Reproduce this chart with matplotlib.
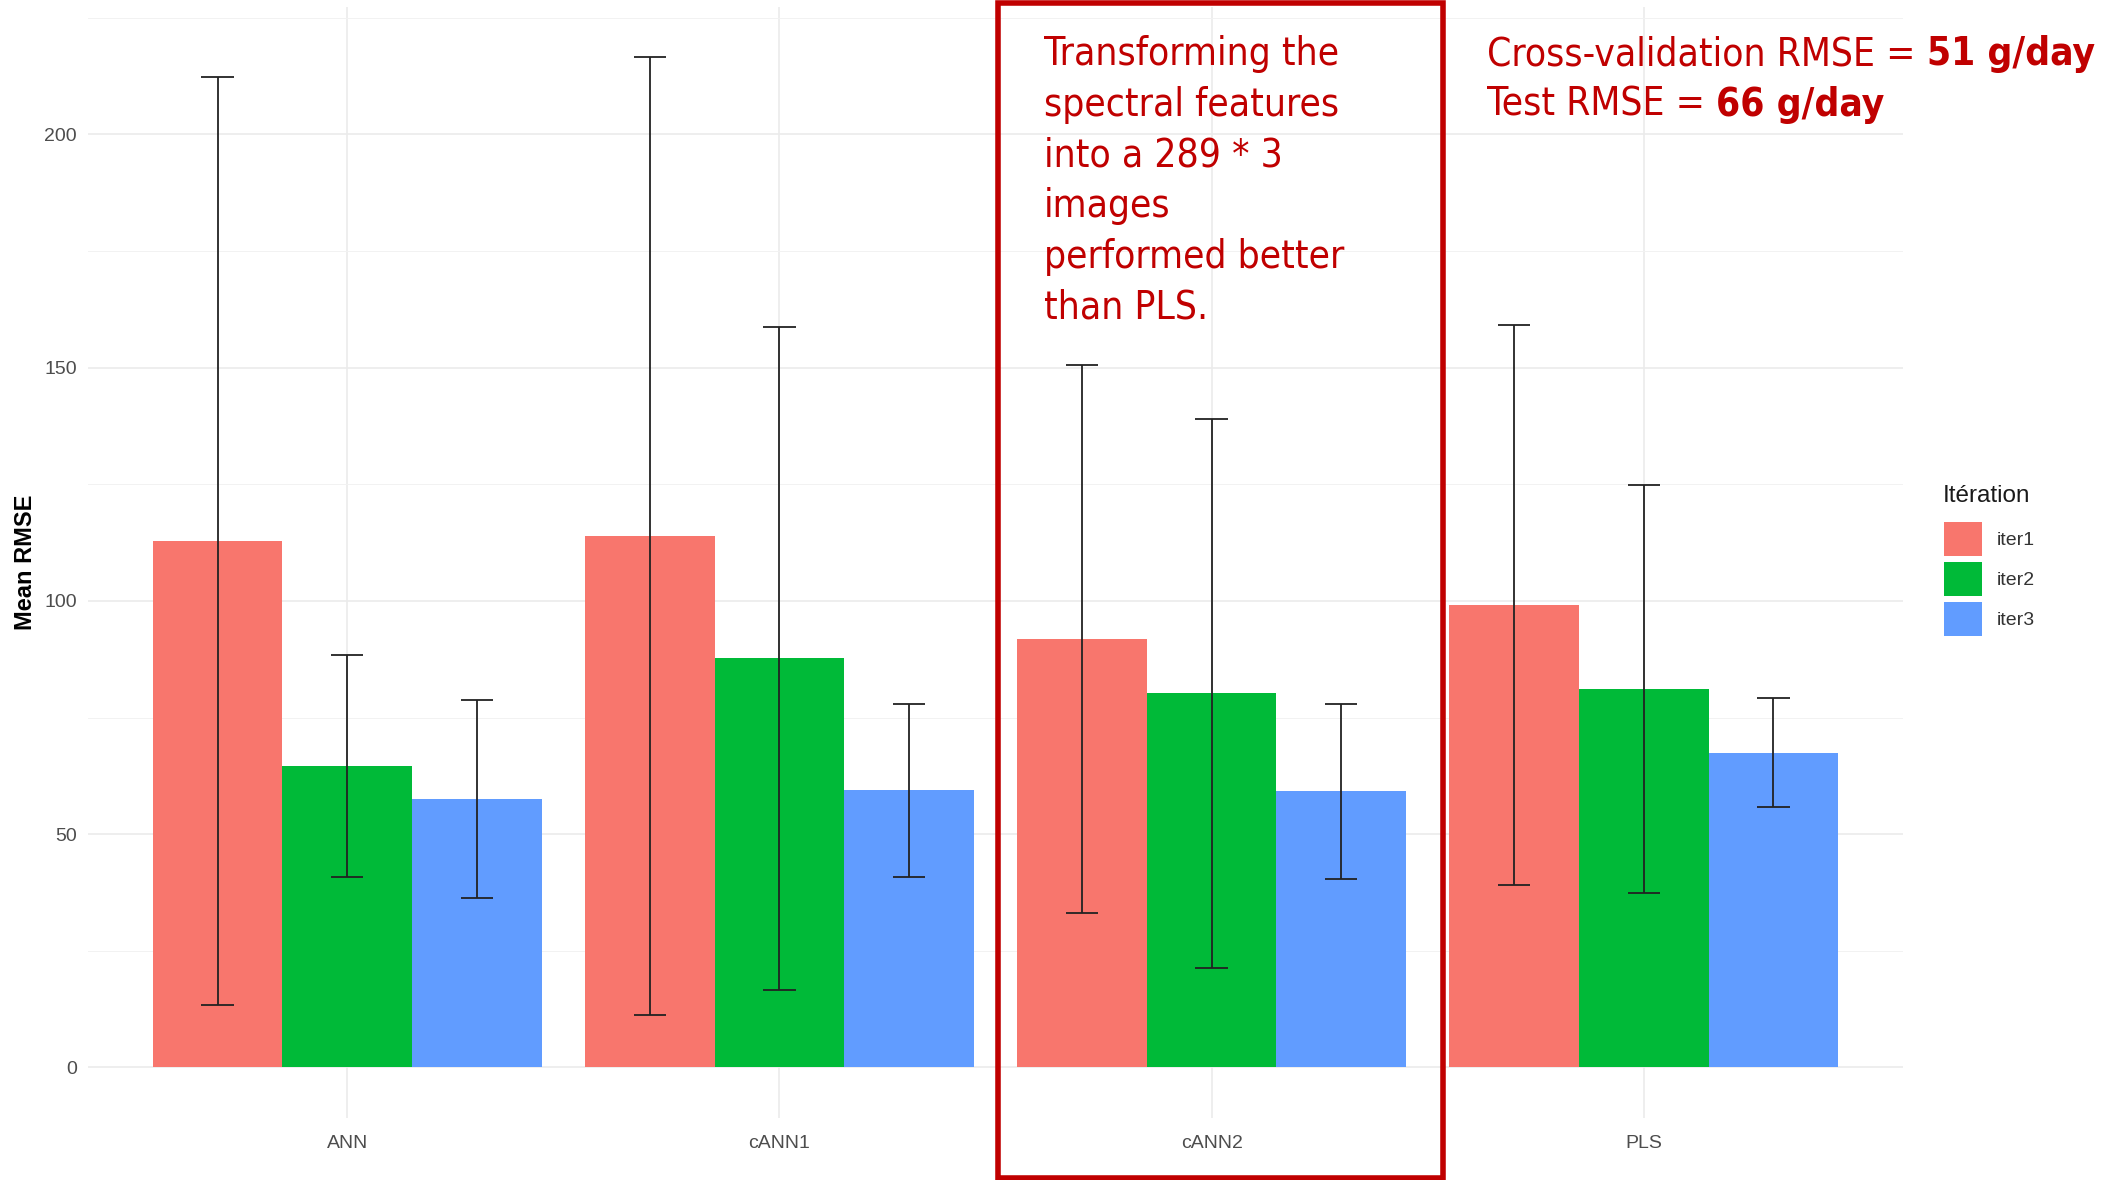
import matplotlib
matplotlib.use("Agg")
import matplotlib.pyplot as plt
from matplotlib import font_manager as fm
from matplotlib.patches import Rectangle, Patch
import numpy as np

# Data
models = ["ANN", "cANN1", "cANN2", "PLS"]
iterations = ["iter1", "iter2", "iter3"]
mean_rmse = {
    "iter1": [112.8, 113.9, 91.9, 99.1],
    "iter2": [64.6, 87.7, 80.2, 81.1],
    "iter3": [57.6, 59.4, 59.2, 67.5],
}
sd_rmse = {
    "iter1": [99.5, 102.7, 58.7, 60.0],
    "iter2": [23.8, 71.0, 58.8, 43.8],
    "iter3": [21.2, 18.6, 18.8, 11.7],
}
colors = {"iter1": "#F8766D", "iter2": "#00BA38", "iter3": "#619CFF"}
y_ticks = [0, 50, 100, 150, 200]

note_lines = ["Transforming the", "spectral features", "into a 289 * 3",
              "images", "performed better", "than PLS."]
cv_label, cv_value = "Cross-validation RMSE = ", "51 g/day"
test_label, test_value = "Test RMSE = ", "66 g/day"

W, H, DPI = 2120, 1180, 100
plt.rcParams["font.family"] = ["Liberation Sans", "DejaVu Sans"]
fig = plt.figure(figsize=(W / DPI, H / DPI), dpi=DPI, facecolor="white")


def condensed_fonts():
    """Return (regular, bold) FontProperties of a narrow sans face if one exists."""
    reg = bold = None
    for f in fm.fontManager.ttflist:
        fname = f.fname.lower()
        narrow = ("condensed" in fname or "narrow" in fname
                  or "condensed" in str(f.stretch).lower())
        if not narrow or f.style != "normal" or "oblique" in fname or "italic" in fname:
            continue
        w = f.weight if isinstance(f.weight, int) else {"normal": 400, "regular": 400,
                                                          "bold": 700}.get(str(f.weight), 400)
        if w == 400 and reg is None:
            reg = fm.FontProperties(fname=f.fname)
        if w == 700 and bold is None:
            bold = fm.FontProperties(fname=f.fname)
    if reg is None:
        reg = fm.FontProperties(family="DejaVu Sans")
        bold = fm.FontProperties(family="DejaVu Sans", weight="bold")
    if bold is None:
        bold = reg.copy()
        bold.set_weight("bold")
    return reg, bold


note_reg, note_bold = condensed_fonts()

ax = fig.add_axes([88 / W, 1 - 1118 / H, (1903 - 88) / W, (1118 - 6.5) / H])
ax.set_facecolor("white")

x = np.arange(1, len(models) + 1)
dodge = 0.9
bw = dodge / len(iterations)
cap = 0.25 * bw
top_all = 0.0
for i, it in enumerate(iterations):
    m = np.array(mean_rmse[it])
    s = np.array(sd_rmse[it])
    xpos = x - dodge / 2 + bw * (i + 0.5)
    ax.bar(xpos, m, width=bw, color=colors[it], edgecolor="none", zorder=2)
    ax.vlines(xpos, m - s, m + s, color="#222222", lw=1.3, zorder=3)
    ax.hlines(m - s, xpos - cap / 2, xpos + cap / 2, color="#222222", lw=1.3, zorder=3)
    ax.hlines(m + s, xpos - cap / 2, xpos + cap / 2, color="#222222", lw=1.3, zorder=3)
    top_all = max(top_all, (m + s).max())

pad = 0.05 * top_all
ax.set_ylim(-pad, top_all + pad)
ax.set_xlim(0.4, len(models) + 0.6)

ax.set_yticks(y_ticks)
ax.set_yticks([t + 25 for t in y_ticks], minor=True)
ax.set_xticks(x)
ax.set_xticklabels(models)
ax.grid(True, which="major", color="#EBEBEB", lw=1.2, zorder=0)
ax.grid(True, which="minor", axis="y", color="#F2F2F2", lw=0.7, zorder=0)
ax.set_axisbelow(True)
for sp in ax.spines.values():
    sp.set_visible(False)
ax.tick_params(axis="both", which="both", length=0, labelsize=14, labelcolor="#4D4D4D")
ax.tick_params(axis="x", pad=12)
ax.tick_params(axis="y", pad=8)
ax.set_ylabel("Mean RMSE", fontsize=17, fontweight="bold", color="black", labelpad=5)

# Legend: title drawn separately so the gap to the keys can be set
fig.text(1943 / W, 1 - 496 / H, "Itération", fontsize=17.5, color="#1A1A1A",
         ha="left", va="center")
handles = [Patch(facecolor=colors[it], edgecolor="none", label=it) for it in iterations]
leg = fig.legend(handles=handles, loc="upper left",
                 bbox_to_anchor=(1944 / W, 1 - 522 / H), frameon=False,
                 fontsize=14, handlelength=1.95, handleheight=2.32,
                 labelspacing=0.3, handletextpad=0.75,
                 borderpad=0, borderaxespad=0)
for t in leg.get_texts():
    t.set_color("#333333")

# Annotation box and text
red = "#C00000"
fig.patches.append(Rectangle((998 / W, 2 / H), (1443 - 998) / W, (1177 - 2) / H,
                             transform=fig.transFigure, fill=False,
                             edgecolor=red, lw=4, zorder=10))

renderer = fig.canvas.get_renderer()


def line_width(size):
    a = fig.text(0, 0, cv_label, fontproperties=note_reg, fontsize=size)
    b = fig.text(0, 0, cv_value, fontproperties=note_bold, fontsize=size)
    w = a.get_window_extent(renderer).width + b.get_window_extent(renderer).width
    a.remove()
    b.remove()
    return w


note_size = 30 * 607 / line_width(30)
note_size = min(note_size, 32)

for k, line in enumerate(note_lines):
    fig.text(1044 / W, 1 - (54 + 50.7 * k) / H, line, color=red,
             fontproperties=note_reg, fontsize=note_size, ha="left", va="center")

for k, (lab, val) in enumerate([(cv_label, cv_value), (test_label, test_value)]):
    yy = 1 - (54 + 50.7 * k) / H
    t1 = fig.text(1487 / W, yy, lab, color=red, fontproperties=note_reg,
                  fontsize=note_size, ha="left", va="center")
    bb = t1.get_window_extent(renderer)
    fig.text(bb.x1 / W, yy, val, color=red, fontproperties=note_bold,
             fontsize=note_size, ha="left", va="center")

fig.savefig("out.png", dpi=DPI, facecolor="white")
